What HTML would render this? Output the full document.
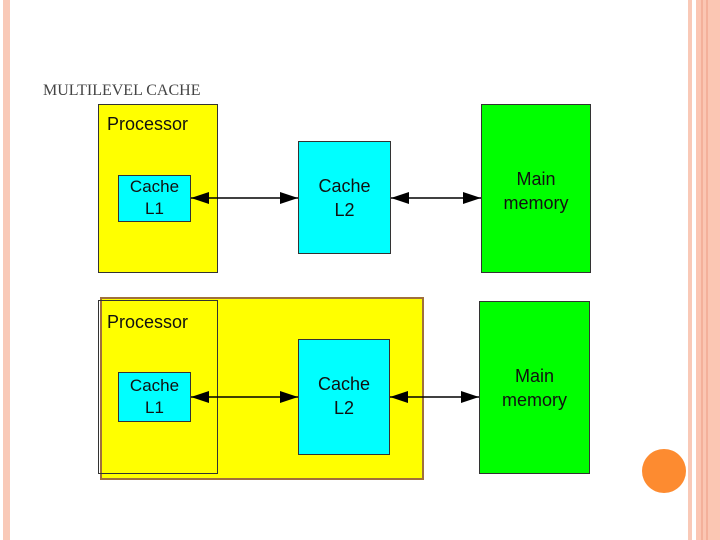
<!DOCTYPE html>
<html><head><style>
body{margin:0;width:720px;height:540px;background:#fff;position:relative;overflow:hidden;font-family:"Liberation Sans",sans-serif}
.a{position:absolute;box-sizing:border-box}
.t{font-size:18px;color:#111;text-align:center;line-height:24px}
</style></head><body>
<div class="a" style="left:3px;top:0;width:7px;height:540px;background:#f9c9b7"></div>
<div class="a" style="left:688px;top:0;width:4px;height:540px;background:#f9c9b7"></div>
<div class="a" style="left:696px;top:0;width:24px;height:540px;background:#fbc6b3"></div>
<div class="a" style="left:701px;top:0;width:2px;height:540px;background:#f4b09a"></div>
<div class="a" style="left:706px;top:0;width:2px;height:540px;background:#f4b09a"></div>
<div class="a" style="left:43px;top:82px;font-family:'Liberation Serif',serif;font-size:16px;color:#444">MULTILEVEL CACHE</div>

<div class="a" style="left:98px;top:104px;width:120px;height:169px;background:#ff0;border:1px solid #333"></div>
<div class="a" style="left:107px;top:114px;font-size:18px;color:#111">Processor</div>
<div class="a t" style="left:118px;top:175px;width:73px;height:47px;background:#0ff;border:1px solid #333;font-size:17px;line-height:22px">Cache<br>L1</div>
<div class="a t" style="left:298px;top:141px;width:93px;height:113px;background:#0ff;border:1px solid #333;padding-top:32px">Cache<br>L2</div>
<div class="a t" style="left:481px;top:104px;width:110px;height:169px;background:#0f0;border:1px solid #333;padding-top:62px">Main<br>memory</div>

<div class="a" style="left:100px;top:297px;width:324px;height:183px;background:#ff0;border:2px solid #a0703c"></div>
<div class="a" style="left:98px;top:300px;width:120px;height:174px;border:1.5px solid #333"></div>
<div class="a" style="left:107px;top:312px;font-size:18px;color:#111">Processor</div>
<div class="a t" style="left:118px;top:372px;width:73px;height:50px;background:#0ff;border:1px solid #333;font-size:17px;line-height:22px;padding-top:2px">Cache<br>L1</div>
<div class="a t" style="left:298px;top:339px;width:92px;height:116px;background:#0ff;border:1px solid #333;padding-top:32px">Cache<br>L2</div>
<div class="a t" style="left:479px;top:301px;width:111px;height:173px;background:#0f0;border:1px solid #333;padding-top:62px">Main<br>memory</div>

<svg class="a" style="left:0;top:0" width="720" height="540">
<defs><marker id="m" markerWidth="10" markerHeight="8" refX="10" refY="4" orient="auto-start-reverse" markerUnits="userSpaceOnUse"><path d="M0,0 L10,4 L0,8 z" fill="#000"/></marker>
<marker id="n" markerWidth="18" markerHeight="12" refX="18" refY="6" orient="auto-start-reverse" markerUnits="userSpaceOnUse"><path d="M0,0 L18,6 L0,12 z" fill="#000"/></marker></defs>
<line x1="191" y1="198" x2="298" y2="198" stroke="#000" stroke-width="1.5" marker-start="url(#n)" marker-end="url(#n)"/>
<line x1="391" y1="198" x2="481" y2="198" stroke="#000" stroke-width="1.5" marker-start="url(#n)" marker-end="url(#n)"/>
<line x1="191" y1="397" x2="298" y2="397" stroke="#000" stroke-width="1.5" marker-start="url(#n)" marker-end="url(#n)"/>
<line x1="390" y1="397" x2="479" y2="397" stroke="#000" stroke-width="1.5" marker-start="url(#n)" marker-end="url(#n)"/>
<circle cx="664" cy="471" r="22" fill="#fd8b30"/>
</svg>
</body></html>
